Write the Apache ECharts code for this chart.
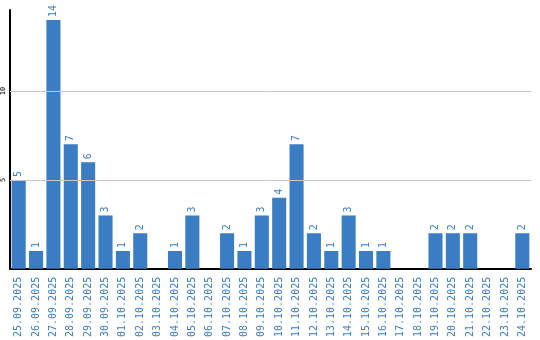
<!DOCTYPE html>
<html><head><meta charset="utf-8">
<script src="https://cdn.jsdelivr.net/npm/echarts@6/dist/echarts.min.js"></script>
<style>html,body{margin:0;padding:0;background:#fff}#c{width:540px;height:340px}</style>
</head><body><div id="c"></div>
<script>
var categories = ["25.09.2025","26.09.2025","27.09.2025","28.09.2025","29.09.2025","30.09.2025","01.10.2025","02.10.2025","03.10.2025","04.10.2025","05.10.2025","06.10.2025","07.10.2025","08.10.2025","09.10.2025","10.10.2025","11.10.2025","12.10.2025","13.10.2025","14.10.2025","15.10.2025","16.10.2025","17.10.2025","18.10.2025","19.10.2025","20.10.2025","21.10.2025","22.10.2025","23.10.2025","24.10.2025"];
var values = [5,1,14,7,6,3,1,2,0,1,3,0,2,1,3,4,7,2,1,3,1,1,0,0,2,2,2,0,0,2];
var yTicks = [5,10];
var blue = '#3b7dc3';
var chart = echarts.init(document.getElementById('c'));
chart.setOption({
  animation:false,
  grid:{left:10,right:9,top:10,bottom:71,containLabel:false},
  xAxis:{type:'category',data:categories,
    axisLine:{lineStyle:{color:'#000',width:2}},axisTick:{show:false},
    axisLabel:{rotate:90,interval:0,color:blue,fontFamily:'DejaVu Sans Mono',fontSize:10,margin:8}},
  yAxis:{type:'value',min:0,max:14.56,interval:5,
    axisLine:{show:true,lineStyle:{color:'#000',width:2}},axisTick:{show:false},
    splitLine:{show:false},
    axisLabel:{rotate:90,color:'#000',fontFamily:'DejaVu Sans Mono',fontSize:7,margin:3,
      formatter:function(v){return yTicks.indexOf(v)>=0?String(v):'';}}},
  series:[
    {type:'line',data:[],z:1,silent:true,
      markLine:{silent:true,symbol:'none',label:{show:false},
        lineStyle:{color:'#c8c8c8',width:1,type:'solid'},
        data:yTicks.map(function(t){return {yAxis:t};})}},
    {type:'bar',z:3,data:values.map(function(v){return v===0?null:v;}),barCategoryGap:'19%',
    itemStyle:{color:blue},
    label:{show:true,position:'top',rotate:90,align:'left',verticalAlign:'middle',distance:3,color:blue,fontFamily:'DejaVu Sans Mono',fontSize:10}}]
});
</script></body></html>
